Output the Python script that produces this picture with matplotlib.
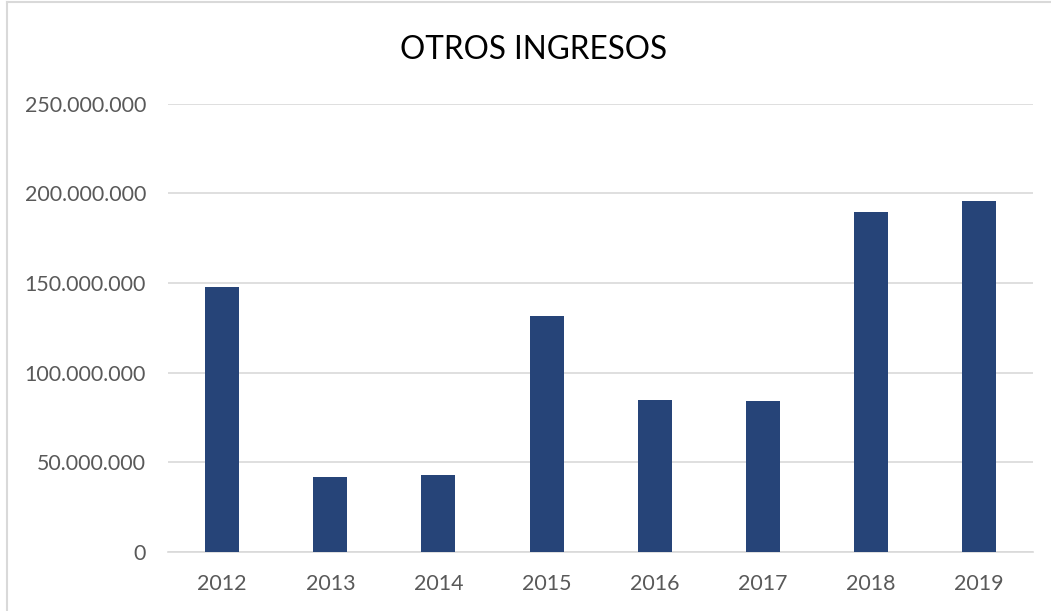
import matplotlib
matplotlib.use("Agg")
import matplotlib.pyplot as plt
from matplotlib.ticker import FuncFormatter
from matplotlib.lines import Line2D

plt.rcParams['font.family'] = ['Lato', 'DejaVu Sans']

# Annual values (pesos)
years = ['2012', '2013', '2014', '2015', '2016', '2017', '2018', '2019']
ingresos = [148000000, 41900000, 42900000, 131800000, 84700000, 84100000, 189400000, 196000000]

fig = plt.figure(figsize=(10.51, 6.11), dpi=100)
ax = fig.add_axes([0.160, 0.097, 0.823, 0.733])

x = range(len(years))
ax.bar(x, ingresos, width=0.315, color='#264478', zorder=3)

ax.set_xlim(-0.5, len(years) - 0.5)
ax.set_ylim(0, 250000000)
ax.set_yticks(range(0, 250000001, 50000000))
ax.yaxis.set_major_formatter(FuncFormatter(lambda v, p: f"{int(v):,}".replace(',', '.')))
ax.set_xticks(list(x))
ax.set_xticklabels(years)

# light horizontal gridlines, no spines except the baseline
ax.grid(axis='y', color='#d9d9d9', linewidth=1.2, zorder=0)
for side in ['top', 'right', 'left']:
    ax.spines[side].set_visible(False)
ax.spines['bottom'].set_color('#d9d9d9')
ax.spines['bottom'].set_linewidth(1.2)
ax.tick_params(axis='both', length=0, labelsize=15.4, labelcolor='#595959')
ax.tick_params(axis='y', pad=16)
ax.tick_params(axis='x', pad=16)

fig.text(0.508, 0.918, 'OTROS INGRESOS', ha='center', va='center', fontsize=22.7, color='black')

# chart area outline (left and top edges)
fig.add_artist(Line2D([0.0062, 0.0062], [0, 0.997], transform=fig.transFigure, color='#d9d9d9', linewidth=1.5))
fig.add_artist(Line2D([0.0062, 1], [0.997, 0.997], transform=fig.transFigure, color='#d9d9d9', linewidth=1.5))

fig.savefig('out.png', dpi=100)
